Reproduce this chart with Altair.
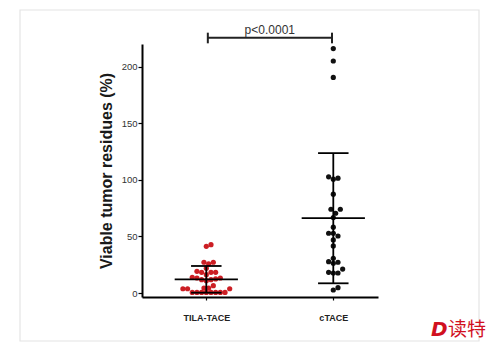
import json
import altair as alt
import pandas as pd

# ---------------- data ----------------
groups = ["TILA-TACE", "cTACE"]
tila_values = [41.3, 42.7, 27.2, 25.7, 27.2, 22.0, 19.2, 18.3, 18.3, 18.3, 16.2,
               13.9, 13.3, 11.8, 10.9, 11.8, 13.3, 12.5,
               6.5, 4.4, 4.4, 3.8, 3.8, 3.8,
               0.5, 0.5, 0.5, 0.5, 0.5, 0.5, 0.5, 0.5]
ctace_values = [216.0, 205.0, 190.5, 101.5, 100.6, 102.7, 87.3, 74.0, 74.0, 70.5,
                66.7, 58.2, 52.8, 52.8, 50.4, 46.9, 41.6, 30.7, 27.7, 26.3,
                27.2, 21.2, 17.7, 17.7, 18.3, 2.7, 4.7]
group_means = [12.1, 66.1]
sd_low = [0.3, 8.6]
sd_high = [23.9, 123.6]
p_label = "p<0.0001"
bracket_y = [225.6]
bracket_cap = [220.6, 230.0]
p_text_y = [228.8]
y_ticks = [0, 50, 100, 150, 200]

# ---------------- layout constants ----------------
WIDTH, HEIGHT = 236, 253
X_DOMAIN = [0.4937, 2.352]
Y_DOMAIN = [-3.5, 220]
PX_X = WIDTH / (X_DOMAIN[1] - X_DOMAIN[0])
PX_Y = HEIGHT / (Y_DOMAIN[1] - Y_DOMAIN[0])
DOT_D = 5.2
MEAN_HALF = 0.249
CAP_HALF = 0.12
RED = "#cc1e24"
BLACK = "#111111"
FONT = "Liberation Sans"


def swarm(values, d=DOT_D):
    """Simple beeswarm layout: returns horizontal offsets (in x units)."""
    placed = []
    out = [0.0] * len(values)
    order = sorted(range(len(values)), key=lambda i: values[i])
    cands = [0.0]
    for j in range(1, 60):
        cands += [j * d * 0.45, -j * d * 0.45]
    for i in order:
        y = values[i] * PX_Y
        chosen = cands[-1]
        for c in cands:
            if all((c - ox) ** 2 + (y - oy) ** 2 >= d * d * 0.8 for ox, oy in placed):
                chosen = c
                break
        placed.append((chosen, y))
        out[i] = chosen / PX_X
    return out


rows = []
for gi, vals in enumerate([tila_values, ctace_values]):
    offs = swarm(vals)
    for v, o in zip(vals, offs):
        rows.append({"group": groups[gi], "x": gi + 1 + o, "value": v})
points_df = pd.DataFrame(rows)

stats_df = pd.DataFrame({
    "group": groups,
    "xc": [1, 2],
    "mean": group_means,
    "low": sd_low,
    "high": sd_high,
})
stats_df["m1"] = stats_df["xc"] - MEAN_HALF
stats_df["m2"] = stats_df["xc"] + MEAN_HALF
stats_df["c1"] = stats_df["xc"] - CAP_HALF
stats_df["c2"] = stats_df["xc"] + CAP_HALF

xscale = alt.Scale(domain=X_DOMAIN, nice=False, zero=False)
yscale = alt.Scale(domain=Y_DOMAIN, nice=False, zero=False)
label_expr = json.dumps(groups) + "[datum.value - 1]"

base_x = alt.X("x:Q", scale=xscale, axis=alt.Axis(
    values=[1, 2], labelExpr=label_expr, title=None, grid=False,
    domainColor="black", domainWidth=2, tickColor="black", tickWidth=1.2,
    tickSize=3, labelFontSize=9, labelFontWeight="bold", labelFont=FONT,
    labelColor="#222222", labelPadding=13))
base_y = alt.Y("value:Q", scale=yscale, axis=alt.Axis(
    values=y_ticks, title="Viable tumor residues (%)", grid=False,
    domainColor="black", domainWidth=2, tickColor="black", tickWidth=1.2,
    tickSize=4, labelFontSize=9.5, labelFont=FONT, labelColor="#333333",
    labelPadding=1, titleFont=FONT, titleFontSize=16, titleFontWeight="bold",
    titleColor="#1a1a1a", titlePadding=7))

points = alt.Chart(points_df).mark_circle(size=27, opacity=1).encode(
    x=base_x, y=base_y,
    color=alt.Color("group:N", scale=alt.Scale(domain=groups, range=[RED, BLACK]), legend=None),
)

vline = alt.Chart(stats_df).mark_rule(color="black", strokeWidth=1.8).encode(
    x=alt.X("xc:Q", scale=xscale), y=alt.Y("low:Q", scale=yscale), y2="high:Q")
mean_line = alt.Chart(stats_df).mark_rule(color="black", strokeWidth=1.8).encode(
    x=alt.X("m1:Q", scale=xscale), x2="m2:Q", y=alt.Y("mean:Q", scale=yscale))
cap_hi = alt.Chart(stats_df).mark_rule(color="black", strokeWidth=1.8).encode(
    x=alt.X("c1:Q", scale=xscale), x2="c2:Q", y=alt.Y("high:Q", scale=yscale))
cap_lo = alt.Chart(stats_df).mark_rule(color="black", strokeWidth=1.8).encode(
    x=alt.X("c1:Q", scale=xscale), x2="c2:Q", y=alt.Y("low:Q", scale=yscale))

br_df = pd.DataFrame({"x1": [1.012], "x2": [1.99], "y": bracket_y})
bracket = alt.Chart(br_df).mark_rule(color="#222222", strokeWidth=2).encode(
    x=alt.X("x1:Q", scale=xscale), x2="x2:Q", y=alt.Y("y:Q", scale=yscale))
caps_df = pd.DataFrame({"x": [1.012, 1.99], "y1": [bracket_cap[0]] * 2, "y2": [bracket_cap[1]] * 2})
bracket_caps = alt.Chart(caps_df).mark_rule(color="#222222", strokeWidth=2).encode(
    x=alt.X("x:Q", scale=xscale), y=alt.Y("y1:Q", scale=yscale), y2="y2:Q")
p_df = pd.DataFrame({"x": [1.5], "y": p_text_y, "t": [p_label]})
p_text = alt.Chart(p_df).mark_text(font=FONT, fontSize=12, color="#333333",
                                    baseline="alphabetic", align="center").encode(
    x=alt.X("x:Q", scale=xscale), y=alt.Y("y:Q", scale=yscale), text="t:N")

frame = alt.Chart(pd.DataFrame({"a": [0]})).mark_rect(
    fill=None, stroke="#e4e4e4", strokeWidth=1.2).encode(
    x=alt.value(-122), x2=alt.value(337), y=alt.value(-34), y2=alt.value(297))

wm_df = pd.DataFrame({"d": ["D"], "t": ["读特"]})
wm_d = alt.Chart(wm_df).mark_text(font="DejaVu Sans", fontSize=20, fontWeight=900,
                                  fontStyle="italic", color="#d1101f", align="left",
                                  baseline="middle").encode(
    x=alt.value(289), y=alt.value(286), text="d:N")
wm_t = alt.Chart(wm_df).mark_text(font="Noto Sans CJK SC", fontSize=19,
                                  color="#d1101f", align="left",
                                  baseline="middle").encode(
    x=alt.value(306), y=alt.value(286), text="t:N")

chart = alt.layer(frame, points, vline, mean_line, cap_hi, cap_lo,
                  bracket, bracket_caps, p_text, wm_d, wm_t).properties(
    width=WIDTH, height=HEIGHT,
    autosize=alt.AutoSizeParams(type="none"),
    padding={"left": 142, "top": 44, "right": 122, "bottom": 57},
    background="white",
).configure_view(stroke=None)

chart.save("out.html", embed_options={"renderer": "svg", "actions": False})
